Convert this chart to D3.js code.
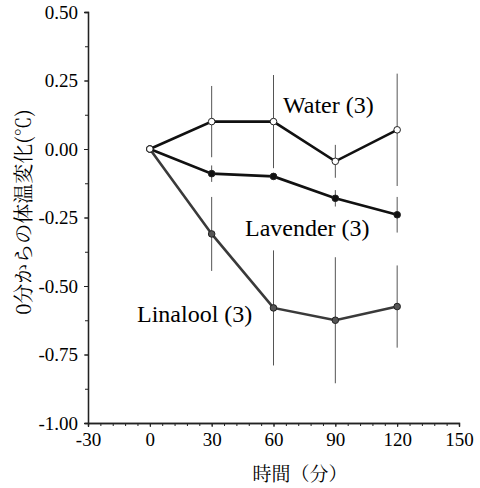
<!DOCTYPE html>
<html lang="ja">
<head>
<meta charset="utf-8">
<title>体温変化</title>
<script src="https://cdn.jsdelivr.net/npm/d3@7"></script>
<style>
  body { margin: 0; background: #fff; }
</style>
</head>
<body>
<script>
// data
var times = [0, 30, 60, 90, 120];
var waterMean = [0, 0.10, 0.10, -0.045, 0.07];
var waterSE = [0, 0.13, 0.17, 0.06, 0.205];
var lavenderMean = [0, -0.09, -0.10, -0.18, -0.24];
var lavenderSE = [0, 0.03, 0.01, 0.03, 0.065];
var linaloolMean = [0, -0.31, -0.58, -0.625, -0.575];
var linaloolSE = [0, 0.135, 0.21, 0.23, 0.15];
var yTicks = [0.5, 0.25, 0, -0.25, -0.5, -0.75, -1];
var xTicks = [-30, 0, 30, 60, 90, 120, 150];

var w = 480, h = 488;
var SERIF = "Liberation Serif";
var MINCHO = "Noto Serif CJK JP";

var xScale = d3.scaleLinear().domain([-30, 150]).range([88, 459]);
var yScale = d3.scaleLinear().domain([-1, 0.5]).range([423, 12]);

var svg = d3.select("body").append("svg")
  .attr("width", w).attr("height", h);

// plain hyphen minus like the original
var fmtX = function(d) { return String(d); };
var fmtY = function(d) { return d.toFixed(2); };

var xAxis = d3.axisBottom(xScale).tickValues(xTicks).tickSize(4).tickPadding(6).tickFormat(fmtX);
var xMinor = d3.axisBottom(xScale).tickValues(d3.range(-30, 151, 6)).tickSize(3).tickFormat("");
var yAxis = d3.axisLeft(yScale).tickValues(yTicks).tickSize(4).tickPadding(6).tickFormat(fmtY);
var yMinor = d3.axisLeft(yScale).tickValues(d3.range(-1, 0.51, 0.125)).tickSize(3).tickFormat("");

function styleAxis(g) {
  g.select(".domain").attr("stroke", "#222").attr("stroke-width", 1.3);
  g.selectAll(".tick line").attr("stroke", "#222");
  g.selectAll(".tick text")
    .style("font-family", SERIF)
    .style("font-size", "19px")
    .attr("fill", "#000");
}

svg.append("g").attr("transform", "translate(0," + yScale(-1) + ")").call(xMinor).call(styleAxis);
svg.append("g").attr("transform", "translate(0," + yScale(-1) + ")").call(xAxis).call(styleAxis);
svg.append("g").attr("transform", "translate(" + xScale(-30) + ",0)").call(yMinor).call(styleAxis);
svg.append("g").attr("transform", "translate(" + xScale(-30) + ",0)").call(yAxis).call(styleAxis);

// axis titles
svg.append("text")
  .attr("x", 300).attr("y", 481)
  .attr("text-anchor", "middle")
  .style("font-family", MINCHO)
  .style("font-size", "19px")
  .text("時間（分）");

svg.append("text")
  .attr("transform", "translate(31,212) rotate(-90)")
  .attr("text-anchor", "middle")
  .style("font-family", MINCHO)
  .style("font-size", "20px")
  .text("0分からの体温変化(℃)");

var series = [
  { name: "Linalool (3)", mean: linaloolMean, se: linaloolSE, line: "#3a3a3a", fill: "#555", lx: 137, ly: 322 },
  { name: "Lavender (3)", mean: lavenderMean, se: lavenderSE, line: "#111", fill: "#111", lx: 245, ly: 236 },
  { name: "Water (3)", mean: waterMean, se: waterSE, line: "#111", fill: "#fff", lx: 283, ly: 113 }
];

var line = d3.line()
  .x(function(d) { return xScale(d.t); })
  .y(function(d) { return yScale(d.m); });

series.forEach(function(s) {
  var pts = times.map(function(t, i) { return { t: t, m: s.mean[i], e: s.se[i] }; });

  // error bars
  svg.append("g").selectAll("line")
    .data(pts.filter(function(d) { return d.e > 0; }))
    .enter().append("line")
    .attr("x1", function(d) { return xScale(d.t); })
    .attr("x2", function(d) { return xScale(d.t); })
    .attr("y1", function(d) { return yScale(d.m + d.e); })
    .attr("y2", function(d) { return yScale(d.m - d.e); })
    .attr("stroke", "#555").attr("stroke-width", 1);

  svg.append("path")
    .datum(pts)
    .attr("d", line)
    .attr("fill", "none")
    .attr("stroke", s.line)
    .attr("stroke-width", 2.6);

  svg.append("g").selectAll("circle")
    .data(pts)
    .enter().append("circle")
    .attr("cx", function(d) { return xScale(d.t); })
    .attr("cy", function(d) { return yScale(d.m); })
    .attr("r", 3.3)
    .attr("fill", s.fill)
    .attr("stroke", "#222").attr("stroke-width", 1);

  svg.append("text")
    .attr("x", s.lx).attr("y", s.ly)
    .style("font-family", SERIF)
    .style("font-size", "24px")
    .text(s.name);
});
</script>
</body>
</html>
